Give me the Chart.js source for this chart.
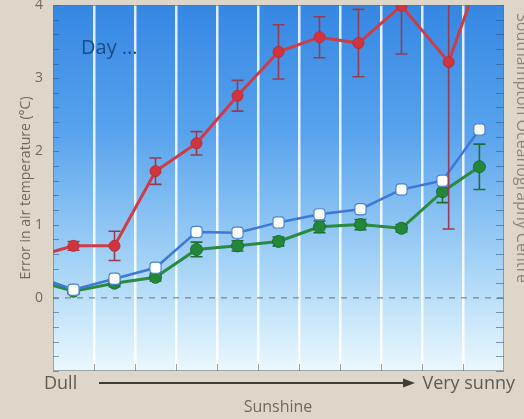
<!DOCTYPE html>
<html>
<head>
<meta charset="utf-8">
<script src="https://cdn.jsdelivr.net/npm/chart.js@4/dist/chart.umd.min.js"></script>
<style>
  html, body { margin: 0; padding: 0; background: #ded7c9; }
  #wrap { width: 524px; height: 419px; position: relative; }
</style>
</head>
<body>
<div id="wrap"><canvas id="c" width="524" height="419"></canvas></div>
<script>
// Sunshine step positions (one step per sky-brightness class)
const stepX    = [-0.5, 0.5, 1.5, 2.5, 3.5, 4.5, 5.5, 6.5, 7.5, 8.5, 9.5, 10.4];
const redStepX = [-0.5, 0.5, 1.5, 2.5, 3.5, 4.5, 5.5, 6.5, 7.45, 8.5, 9.65, 10.4];

// Error in air temperature (°C) for the three screen types
const redValues   = [0.55, 0.71, 0.71, 1.73, 2.11, 2.76, 3.36, 3.56, 3.48, 3.99, 3.22, 4.4];
const redErrors   = [0, 0.06, 0.20, 0.18, 0.16, 0.21, 0.37, 0.28, 0.46, 0.66, 2.28, 0.3];
const blueValues  = [0.31, 0.11, 0.26, 0.41, 0.90, 0.89, 1.03, 1.14, 1.21, 1.48, 1.60, 2.30];
const greenValues = [0.25, 0.09, 0.20, 0.28, 0.66, 0.71, 0.77, 0.97, 1.00, 0.95, 1.45, 1.79];
const greenErrors = [0, 0.04, 0.05, 0.05, 0.10, 0.07, 0.06, 0.08, 0.07, 0.05, 0.15, 0.31];

const yTickLabels = ['0', '1', '2', '3', '4'];

const toPoints = (xs, ys) => xs.map((x, i) => ({ x: x, y: ys[i] }));

const FONT = "'Open Sans', 'DejaVu Sans', sans-serif";

// Plot background, frame, minor ticks, zero line and error bars
const decorations = {
  id: 'decorations',
  beforeDraw(chart) {
    const { ctx, chartArea: a } = chart;
    const g = ctx.createLinearGradient(0, a.top, 0, a.bottom);
    g.addColorStop(0, '#3587e3');
    g.addColorStop(0.35, '#58a3ed');
    g.addColorStop(0.7, '#a3d2f6');
    g.addColorStop(1, '#ebf8fd');
    ctx.save();
    ctx.fillStyle = g;
    ctx.fillRect(a.left, a.top, a.right - a.left, a.bottom - a.top);
    ctx.restore();
  },
  beforeDatasetsDraw(chart) {
    const { ctx, chartArea: a, scales } = chart;
    const y = scales.y, x = scales.x;
    ctx.save();
    // minor ticks on left and right edges
    ctx.strokeStyle = 'rgba(45, 80, 130, 0.55)';
    ctx.lineWidth = 1;
    for (let i = -5; i <= 20; i++) {
      const py = Math.round(y.getPixelForValue(i * 0.2)) + 0.5;
      ctx.beginPath();
      ctx.moveTo(a.left, py); ctx.lineTo(a.left + 6, py);
      ctx.moveTo(a.right - 8, py); ctx.lineTo(a.right, py);
      ctx.stroke();
    }
    // ticks along the bottom edge
    ctx.strokeStyle = 'rgba(110, 120, 130, 0.7)';
    for (let i = 1; i <= 10; i++) {
      const px = Math.round(x.getPixelForValue(i)) + 0.5;
      ctx.beginPath();
      ctx.moveTo(px, a.bottom); ctx.lineTo(px, a.bottom - 7);
      ctx.stroke();
    }
    // zero line
    const y0 = y.getPixelForValue(0);
    ctx.setLineDash([6, 6]);
    ctx.strokeStyle = 'rgba(95, 120, 150, 0.7)';
    ctx.lineWidth = 1.5;
    ctx.beginPath();
    ctx.moveTo(a.left, y0); ctx.lineTo(a.right, y0);
    ctx.stroke();
    ctx.setLineDash([]);
    // frame
    ctx.strokeStyle = 'rgba(100, 110, 120, 0.6)';
    ctx.lineWidth = 1;
    ctx.strokeRect(a.left + 0.5, a.top + 0.5, a.right - a.left - 1, a.bottom - a.top - 1);
    // panel label
    ctx.fillStyle = '#1c4a86';
    ctx.font = `20px ${FONT}`;
    ctx.textBaseline = 'alphabetic';
    ctx.fillText('Day ...', 81, 54);
    ctx.restore();
  },
  beforeDatasetDraw(chart, args) {
    const ds = chart.data.datasets[args.index];
    if (!ds.errors) return;
    const { ctx, chartArea: a, scales } = chart;
    ctx.save();
    ctx.beginPath();
    ctx.rect(a.left, a.top, a.right - a.left, a.bottom - a.top);
    ctx.clip();
    ctx.strokeStyle = ds.errorColor;
    ctx.lineWidth = 1.6;
    ds.data.forEach((p, i) => {
      const e = ds.errors[i];
      if (!e) return;
      const px = scales.x.getPixelForValue(p.x);
      const yHi = scales.y.getPixelForValue(p.y + e);
      const yLo = scales.y.getPixelForValue(p.y - e);
      ctx.beginPath();
      ctx.moveTo(px, yHi); ctx.lineTo(px, yLo);
      ctx.moveTo(px - 6, yHi); ctx.lineTo(px + 6, yHi);
      ctx.moveTo(px - 6, yLo); ctx.lineTo(px + 6, yLo);
      ctx.stroke();
    });
    ctx.restore();
  },
  afterDraw(chart) {
    const { ctx } = chart;
    ctx.save();
    // y-axis title
    ctx.fillStyle = '#6f6a60';
    ctx.font = `14px ${FONT}`;
    ctx.textAlign = 'center';
    ctx.textBaseline = 'middle';
    ctx.translate(26, 188);
    ctx.rotate(-Math.PI / 2);
    ctx.fillText('Error in air temperature (°C)', 0, 0);
    ctx.restore();

    // credit along the right edge
    ctx.save();
    ctx.fillStyle = '#8c8678';
    ctx.font = `16px ${FONT}`;
    ctx.textAlign = 'center';
    ctx.textBaseline = 'middle';
    ctx.translate(522, 148);
    ctx.rotate(Math.PI / 2);
    ctx.fillText('Southampton Oceanography Centre', 0, 0);
    ctx.restore();

    // sunshine axis: Dull -> Very sunny
    ctx.save();
    ctx.fillStyle = '#5e5a52';
    ctx.font = `18px ${FONT}`;
    ctx.textBaseline = 'alphabetic';
    ctx.textAlign = 'left';
    ctx.fillText('Dull', 44, 389);
    ctx.textAlign = 'right';
    ctx.fillText('Very sunny', 515, 389);
    ctx.strokeStyle = '#3e3c36';
    ctx.fillStyle = '#3e3c36';
    ctx.lineWidth = 2;
    ctx.beginPath();
    ctx.moveTo(99, 383); ctx.lineTo(405, 383);
    ctx.stroke();
    ctx.beginPath();
    ctx.moveTo(415, 383); ctx.lineTo(403, 378.5); ctx.lineTo(403, 387.5);
    ctx.closePath();
    ctx.fill();
    ctx.fillStyle = '#6f6a60';
    ctx.font = `16px ${FONT}`;
    ctx.textAlign = 'center';
    ctx.fillText('Sunshine', 278, 412);
    ctx.restore();
  }
};

new Chart(document.getElementById('c'), {
  type: 'line',
  data: {
    datasets: [
      {
        label: 'Red',
        data: toPoints(redStepX, redValues),
        errors: redErrors,
        errorColor: '#9a3a52',
        borderColor: '#cf3c46',
        backgroundColor: '#d1343e',
        borderWidth: 3,
        pointRadius: 5.5,
        pointBorderColor: '#b8303a',
        pointBorderWidth: 1,
        order: 1
      },
      {
        label: 'Blue',
        data: toPoints(stepX, blueValues),
        borderColor: '#3e78d6',
        backgroundColor: '#ffffff',
        borderWidth: 2.5,
        pointStyle: 'rectRounded',
        pointRadius: 6.5,
        pointBorderColor: '#4a82d8',
        pointBorderWidth: 1.2,
        order: 2
      },
      {
        label: 'Green',
        data: toPoints(stepX, greenValues),
        errors: greenErrors,
        errorColor: '#1f6e33',
        borderColor: '#2a8a3f',
        backgroundColor: '#23873a',
        borderWidth: 3,
        pointRadius: 6,
        pointBorderColor: '#1c6e30',
        pointBorderWidth: 1,
        order: 3
      }
    ]
  },
  options: {
    responsive: false,
    animation: false,
    devicePixelRatio: 1,
    layout: { padding: { left: 33, right: 20, top: 5, bottom: 48 }, autoPadding: false },
    elements: { line: { tension: 0 } },
    plugins: { legend: { display: false }, tooltip: { enabled: false } },
    scales: {
      x: {
        type: 'linear',
        min: 0,
        max: 11,
        ticks: { display: false, stepSize: 1 },
        border: { display: false },
        grid: {
          drawTicks: false,
          lineWidth: 2.5,
          color: (c) => (c.tick && c.tick.value >= 1 && c.tick.value <= 10) ? 'rgba(255,255,255,0.85)' : 'rgba(0,0,0,0)'
        },
        afterFit: (s) => { s.height = 0; s.paddingLeft = 0; s.paddingRight = 0; }
      },
      y: {
        type: 'linear',
        min: -1,
        max: 4,
        ticks: {
          stepSize: 0.2,
          autoSkip: false,
          padding: 10,
          color: '#6f6a60',
          font: { family: FONT, size: 14 },
          callback: (v) => {
            const r = Math.round(v);
            return (Math.abs(v - r) < 1e-6 && r >= 0) ? yTickLabels[r] : '';
          }
        },
        border: { display: false },
        grid: { display: false, drawTicks: false },
        afterFit: (s) => { s.width = 20; s.paddingTop = 0; s.paddingBottom = 0; }
      }
    }
  },
  plugins: [decorations]
});
</script>
</body>
</html>
